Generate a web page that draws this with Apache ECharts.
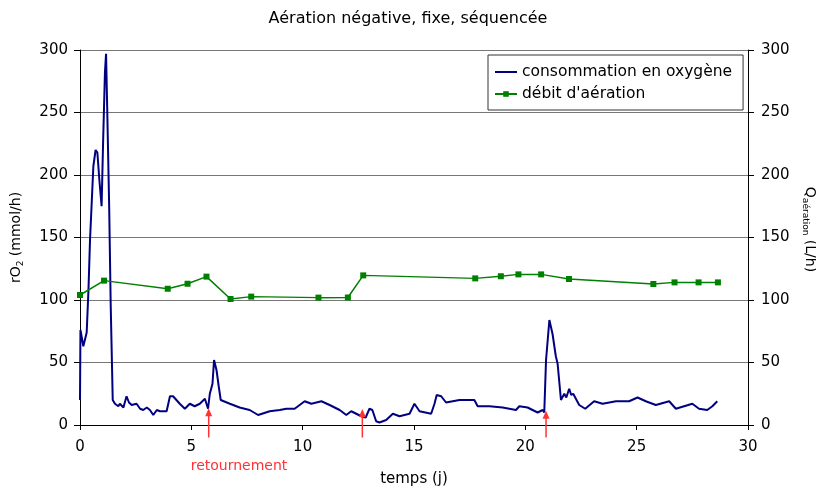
<!DOCTYPE html>
<html>
<head>
<meta charset="utf-8">
<title>Aération négative, fixe, séquencée</title>
<script src="https://cdn.jsdelivr.net/npm/echarts@6/dist/echarts.min.js"></script>
<style>
  html, body { margin: 0; padding: 0; background: #fff; }
  #chart { width: 816px; height: 493px; }
</style>
</head>
<body>
<div id="chart"></div>
<script>
// consommation en oxygène : [jour, rO2 mmol/h]
const o2Points = [
  [0, 20], [0.02, 76], [0.15, 63], [0.30, 74], [0.38, 108], [0.45, 148], [0.60, 207], [0.70, 220],
  [0.78, 218], [0.87, 196], [0.97, 175], [1.04, 228], [1.12, 282], [1.17, 297], [1.22, 255], [1.31, 175],
  [1.38, 95], [1.47, 20], [1.57, 17], [1.72, 15], [1.79, 17], [1.95, 14], [2.09, 23], [2.2, 18],
  [2.32, 16], [2.54, 17], [2.7, 13], [2.84, 12], [3.0, 14], [3.14, 12], [3.29, 8], [3.45, 12],
  [3.59, 11], [3.89, 11], [4.04, 23], [4.18, 23], [4.48, 17], [4.71, 13], [4.93, 17], [5.15, 15],
  [5.38, 17], [5.61, 21], [5.75, 13], [5.83, 25], [5.95, 33], [6.02, 52], [6.13, 44], [6.23, 31],
  [6.32, 20], [6.73, 17], [7.17, 14], [7.62, 12], [8.0, 8], [8.52, 11], [8.97, 12], [9.27, 13],
  [9.64, 13], [10.09, 19], [10.39, 17], [10.84, 19], [11.21, 16], [11.66, 12], [11.96, 8], [12.18, 11],
  [12.63, 7], [12.83, 6], [13.0, 13], [13.13, 12], [13.3, 3], [13.45, 2], [13.75, 4], [14.05, 9],
  [14.35, 7], [14.8, 9], [15.02, 17], [15.25, 11], [15.77, 9], [15.92, 17], [16.02, 24], [16.22, 23],
  [16.44, 18], [17.04, 20], [17.71, 20], [17.86, 15], [18.39, 15], [18.98, 14], [19.58, 12], [19.73, 15],
  [20.1, 14], [20.55, 10], [20.78, 12], [20.85, 10], [20.93, 52], [21.08, 84], [21.22, 73], [21.37, 55],
  [21.45, 49], [21.6, 20], [21.75, 25], [21.84, 22], [21.97, 29], [22.06, 24], [22.15, 25], [22.42, 16],
  [22.69, 13], [23.09, 19], [23.47, 17], [24.07, 19], [24.66, 19], [25.04, 22], [25.41, 19], [25.86, 16],
  [26.46, 19], [26.76, 13], [27.5, 17], [27.8, 13], [28.17, 12], [28.4, 15], [28.62, 19]
]

// débit d'aération
const aerDays = [0, 1.08, 3.94, 4.83, 5.68, 6.76, 7.69, 10.71, 12.03, 12.72, 17.75, 18.9, 19.69, 20.71, 21.96, 25.75, 26.7, 27.78, 28.65]
const aerFlow = [104, 115.5, 109, 113, 118.7, 100.8, 102.7, 101.9, 102, 119.7, 117.3, 119, 120.5, 120.5, 116.8, 112.8, 114.1, 114.1, 114.1]

// retournements (flèches rouges)
const turnDays = [5.78, 12.68, 20.93]
const turnTip = [13.5, 12.8, 11.5]
const arrowTail = -10

const font = 'DejaVu Sans'
const red = '#ff3333'

const chart = echarts.init(document.getElementById('chart'))

const yAxisBase = {
  type: 'value',
  min: 0,
  max: 300,
  interval: 50,
  nameLocation: 'middle',
  axisLine: { show: true, lineStyle: { color: '#000', width: 1 } },
  axisTick: { show: true, length: 6, lineStyle: { color: '#000' } }
}

const nameRich = {
  n: { fontSize: 14, color: '#000', fontFamily: font, lineHeight: 18 },
  s: { fontSize: 9, color: '#000', fontFamily: font, verticalAlign: 'bottom', lineHeight: 12 }
}

chart.setOption({
  animation: false,
  backgroundColor: '#fff',
  textStyle: { fontFamily: font },
  title: {
    text: 'Aération négative, fixe, séquencée',
    left: 'center',
    top: 6,
    textStyle: { fontSize: 16, fontWeight: 'normal', color: '#000', fontFamily: font }
  },
  legend: {
    data: [
      // trait simple, sans symbole
      { name: 'consommation en oxygène', icon: 'path://M0,0L22,0L22,2L0,2Z' },
      { name: "débit d'aération" }
    ],
    orient: 'vertical',
    left: 488,
    top: 55,
    padding: [9, 11, 8, 6],
    itemGap: 6,
    itemWidth: 22,
    itemHeight: 7,
    backgroundColor: '#fff',
    borderColor: '#333',
    borderWidth: 1,
    borderRadius: 0,
    textStyle: { fontSize: 15.5, color: '#000', fontFamily: font, lineHeight: 16 }
  },
  grid: { left: 80, right: 68, top: 50, bottom: 68, outerBoundsMode: 'none' },
  xAxis: {
    type: 'value',
    min: 0,
    max: 30,
    interval: 5,
    name: 'temps (j)',
    nameLocation: 'middle',
    nameGap: 47,
    nameTextStyle: { fontSize: 15, color: '#000', fontFamily: font },
    axisLine: { onZero: false, lineStyle: { color: '#000', width: 1 } },
    axisTick: { length: 5, lineStyle: { color: '#000' } },
    axisLabel: { fontSize: 15, color: '#000', margin: 15, fontFamily: font },
    splitLine: { show: false }
  },
  yAxis: [
    Object.assign({}, yAxisBase, {
      position: 'left',
      name: '{n|rO}{s|2}{n| (mmol/h)}',
      nameRotate: 90,
      nameGap: 55,
      nameTextStyle: { rich: nameRich },
      axisLabel: { fontSize: 15, color: '#000', margin: 12, fontFamily: font },
      splitLine: { show: true, lineStyle: { color: '#777', width: 1 } }
    }),
    Object.assign({}, yAxisBase, {
      position: 'right',
      name: '{n|Q}{s|aération}{n| (L/h)}',
      nameRotate: -90,
      nameGap: 33,
      nameTextStyle: { rich: nameRich, padding: [0, 16, 0, 0] },
      axisLabel: { fontSize: 15, color: '#000', margin: 13, fontFamily: font },
      splitLine: { show: false }
    })
  ],
  series: [
    {
      name: 'consommation en oxygène',
      type: 'line',
      yAxisIndex: 0,
      data: o2Points,
      showSymbol: false,
      symbol: 'none',
      lineStyle: { color: '#000080', width: 2 },
      itemStyle: { color: '#000080' },
      z: 3
    },
    {
      name: "débit d'aération",
      type: 'line',
      yAxisIndex: 1,
      data: aerDays.map((d, i) => [d, aerFlow[i]]),
      symbol: 'rect',
      symbolSize: 6,
      lineStyle: { color: '#008000', width: 1.5 },
      itemStyle: { color: '#008000' },
      z: 4
    },
    {
      // flèches de retournement, placées par les échelles des axes
      name: 'retournement',
      type: 'custom',
      yAxisIndex: 0,
      silent: true,
      z: 5,
      data: turnDays.map((d, i) => [d, turnTip[i]]),
      renderItem(params, api) {
        const tip = api.coord([api.value(0), api.value(1)])
        const tail = api.coord([api.value(0), arrowTail])
        const children = [
          {
            type: 'line',
            shape: { x1: tip[0], y1: tip[1] + 6, x2: tail[0], y2: tail[1] },
            style: { stroke: red, lineWidth: 1.5 }
          },
          {
            type: 'polygon',
            shape: { points: [[tip[0], tip[1]], [tip[0] - 3.5, tip[1] + 8], [tip[0] + 3.5, tip[1] + 8]] },
            style: { fill: red }
          }
        ]
        if (params.dataIndex === 0) {
          children.push({
            type: 'text',
            x: tail[0] - 18,
            y: tail[1] + 29,
            style: { text: 'retournement', fill: red, fontSize: 14, fontFamily: font, verticalAlign: 'middle' }
          })
        }
        return { type: 'group', children }
      }
    }
  ]
})
</script>
</body>
</html>
